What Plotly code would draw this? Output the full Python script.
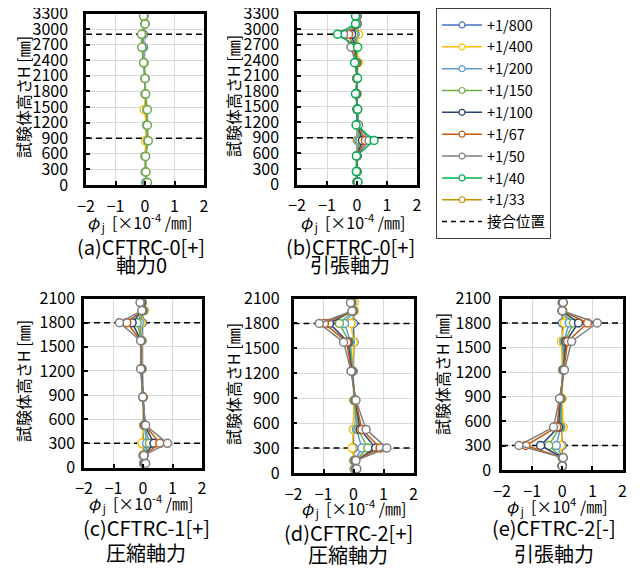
import plotly.graph_objects as go

# ---------------- data ----------------
series_names = ["+1/800", "+1/400", "+1/200", "+1/150", "+1/100", "+1/67", "+1/50", "+1/40", "+1/33"]
series_colors = ["#4472C4", "#FFC000", "#5B9BD5", "#70AD47", "#264478", "#C55A11", "#808080", "#00B050", "#BF9000"]

heights_top = [50, 250, 550, 850, 1150, 1450, 1750, 2050, 2350, 2650, 2900, 3100, 3250]
heights_bot = [50, 150, 300, 525, 875, 1225, 1575, 1800, 1950, 2050]

joint_top = [900, 2900]
joint_bot = [300, 1800]

# (a) CFTRC-0[+] 軸力0
phi_a = {
    "+1/800": [0.03, 0.01, 0.00, 0.05, 0.05, 0.04, 0.00, 0.00, -0.03, -0.05, -0.05, 0.00, -0.03],
    "+1/400": [0.05, 0.02, 0.01, 0.02, 0.06, -0.03, 0.01, 0.00, -0.03, -0.08, -0.08, 0.00, -0.04],
    "+1/200": [0.06, 0.02, 0.02, 0.09, 0.07, 0.06, 0.02, 0.00, -0.04, -0.09, -0.10, 0.00, -0.04],
    "+1/150": [0.08, 0.03, 0.02, 0.11, 0.08, 0.08, 0.02, 0.00, -0.05, -0.11, -0.12, 0.00, -0.05],
}
# (b) CFTRC-0[+] 引張軸力
phi_b = {
    "+1/800": [0.00, 0.00, 0.00, 0.01, 0.00, 0.00, 0.00, 0.00, 0.02, 0.00, 0.01, 0.00, 0.00],
    "+1/400": [0.00, 0.00, 0.00, 0.03, 0.00, 0.00, 0.00, 0.00, 0.05, 0.00, 0.05, 0.00, 0.00],
    "+1/200": [0.01, 0.00, 0.00, 0.06, 0.01, 0.00, -0.01, 0.00, 0.00, -0.03, -0.06, 0.00, 0.00],
    "+1/150": [0.01, 0.00, 0.00, 0.10, 0.01, 0.01, -0.01, 0.00, -0.01, -0.05, -0.10, 0.00, 0.00],
    "+1/100": [0.01, -0.01, 0.00, 0.18, 0.02, 0.01, -0.02, 0.00, -0.02, -0.08, -0.18, 0.00, 0.00],
    "+1/67": [0.02, -0.01, 0.00, 0.28, 0.03, 0.02, -0.03, 0.00, -0.03, -0.12, -0.28, 0.00, 0.00],
    "+1/50": [0.02, -0.02, 0.00, 0.40, 0.05, 0.02, -0.04, 0.00, -0.05, -0.20, -0.45, 0.00, 0.00],
    "+1/40": [0.03, -0.02, -0.02, 0.57, -0.03, 0.02, -0.05, 0.02, -0.08, 0.02, -0.65, -0.05, -0.05],
}
# (c) CFTRC-1[+] 圧縮軸力
phi_c = {
    "+1/800": [0.02, 0.00, 0.00, 0.02, 0.00, -0.03, -0.03, -0.02, 0.03, -0.02],
    "+1/400": [0.04, 0.01, -0.04, 0.03, 0.00, -0.04, -0.04, -0.06, 0.05, -0.03],
    "+1/200": [0.05, 0.02, 0.12, 0.05, 0.00, -0.05, -0.05, -0.12, 0.02, -0.04],
    "+1/150": [0.06, 0.02, 0.22, 0.05, 0.00, -0.06, -0.06, -0.20, 0.00, -0.05],
    "+1/100": [0.07, 0.03, 0.37, 0.06, 0.00, -0.06, -0.07, -0.37, -0.02, -0.06],
    "+1/67": [0.08, 0.03, 0.57, 0.07, 0.00, -0.07, -0.07, -0.55, -0.03, -0.08],
    "+1/50": [0.09, 0.03, 0.83, 0.09, -0.01, -0.08, -0.08, -0.80, -0.04, -0.10],
}
# (d) CFTRC-2[+] 圧縮軸力
phi_d = {
    "+1/800": [0.02, 0.01, 0.00, 0.00, 0.01, -0.01, 0.02, 0.00, 0.02, 0.02],
    "+1/400": [0.04, 0.02, -0.05, 0.00, 0.02, -0.03, 0.00, -0.08, 0.03, 0.03],
    "+1/200": [0.06, 0.04, 0.28, 0.10, 0.04, -0.04, -0.10, -0.30, 0.00, -0.05],
    "+1/150": [0.08, 0.05, 0.48, 0.15, 0.05, -0.05, -0.14, -0.47, -0.02, -0.07],
    "+1/100": [0.09, 0.06, 0.74, 0.22, 0.06, -0.06, -0.18, -0.80, -0.03, -0.08],
    "+1/67": [0.10, 0.07, 0.89, 0.28, 0.07, -0.07, -0.22, -0.97, -0.04, -0.09],
    "+1/50": [0.11, 0.08, 1.11, 0.42, 0.08, -0.08, -0.33, -1.14, -0.05, -0.10],
}
# (e) CFTRC-2[-] 引張軸力
phi_e = {
    "+1/800": [0.00, 0.00, 0.00, 0.00, -0.02, 0.01, 0.00, 0.00, 0.00, 0.00],
    "+1/400": [0.00, 0.00, -0.05, 0.03, 0.00, 0.02, -0.03, 0.07, 0.02, 0.01],
    "+1/200": [0.00, 0.01, -0.20, -0.05, -0.04, 0.03, 0.05, 0.23, 0.00, 0.01],
    "+1/150": [0.00, 0.02, -0.45, -0.08, -0.05, 0.04, 0.08, 0.37, 0.00, 0.02],
    "+1/100": [0.00, 0.02, -0.72, -0.12, -0.07, 0.05, 0.12, 0.54, 0.00, 0.02],
    "+1/67": [0.00, 0.03, -1.21, -0.18, -0.08, 0.06, 0.18, 0.84, 0.00, 0.03],
    "+1/50": [0.00, 0.03, -1.44, -0.29, -0.09, 0.07, 0.31, 1.16, 0.00, 0.03],
}

x_range = [-2, 2]
x_ticks = [-2, -1, 0, 1, 2]
y_range_top = [0, 3300]
y_range_bot = [0, 2100]
y_dtick = 300

captions = ["(a)CFTRC-0[+]", "(b)CFTRC-0[+]", "(c)CFTRC-1[+]", "(d)CFTRC-2[+]", "(e)CFTRC-2[-]"]
subcaptions = ["軸力0", "引張軸力", "圧縮軸力", "圧縮軸力", "引張軸力"]
y_title = "試験体高さH [㎜]"
x_titles = [
    "<i>φ</i><sub> j</sub>  [×10<sup>-4</sup> /㎜]",
    "<i>φ</i><sub> j</sub>  [×10<sup>-4</sup> /㎜]",
    "<i>φ</i><sub> j</sub>  [×10<sup>-4</sup> /㎜]",
    "<i>φ</i><sub> j</sub>  [×10<sup>-4</sup> /㎜]",
    "<i>φ</i><sub> j</sub>  [×10<sup>4</sup> /㎜]",
]
joint_label = "接合位置"

# ---------------- layout geometry (page pixels) ----------------
OFF = 8                      # default body margin of the html page
W, H = 640 - OFF, 568 - OFF
FONT = "Noto Sans CJK JP"
panels = [
    dict(x0=86, x1=204, yt=13.5, yb=185, data=phi_a, h=heights_top, j=joint_top, yr=y_range_top, so=12,
         ytx=23, yty=97, xtx=139, xty=222, cx=141, cy=246, sy=265),
    dict(x0=297, x1=417, yt=13.5, yb=184.5, data=phi_b, h=heights_top, j=joint_top, yr=y_range_top, so=12,
         ytx=233, yty=96, xtx=352, xty=222, cx=350, cy=246, sy=265),
    dict(x0=84, x1=202, yt=298.5, yb=467.5, data=phi_c, h=heights_bot, j=joint_bot, yr=y_range_bot, so=3,
         ytx=23, yty=381, xtx=140, xty=503, cx=146, cy=527, sy=552),
    dict(x0=293.5, x1=413.5, yt=298.5, yb=473, data=phi_d, h=heights_bot, j=joint_bot, yr=y_range_bot, so=8,
         ytx=233, yty=384, xtx=353, xty=508, cx=348, cy=532, sy=554),
    dict(x0=502, x1=622.5, yt=298.5, yb=470, data=phi_e, h=heights_bot, j=joint_bot, yr=y_range_bot, so=5,
         ytx=442, yty=374, xtx=557, xty=506, cx=554, cy=527, sy=553),
]

def px(x):
    return (x - OFF) / W

def py(y):
    return 1 - (y - OFF) / H

fig = go.Figure()
layout = dict(
    width=W, height=H, autosize=False,
    margin=dict(l=0, r=0, t=0, b=0, pad=0, autoexpand=False),
    paper_bgcolor="white", plot_bgcolor="white",
    font=dict(family=FONT, size=15, color="#000000"),
    showlegend=True,
    legend=dict(
        x=px(436), y=1.0, xanchor="left", yanchor="top",
        bordercolor="#404040", borderwidth=1, bgcolor="white",
        font=dict(family=FONT, size=14.5, color="#000000"),
        tracegroupgap=0, itemwidth=40,
    ),
)
annotations = []

for i, p in enumerate(panels):
    k = "" if i == 0 else str(i + 1)
    xa, ya = "x" + k, "y" + k
    layout["xaxis" + k] = dict(
        domain=[px(p["x0"]), px(p["x1"])], anchor=ya, range=x_range, automargin=False,
        tickvals=x_ticks, showgrid=True, gridcolor="#D9D9D9", gridwidth=1,
        zeroline=False, showline=True, linecolor="#000000", linewidth=2.5, mirror=True,
        ticks="inside", ticklen=4, tickwidth=1.5, tickcolor="#000000",
        ticklabelstandoff=5, ticklabeloverflow="allow", tickfont=dict(family=FONT, size=16),
    )
    layout["yaxis" + k] = dict(
        domain=[py(p["yb"]), py(p["yt"])], anchor=xa, range=p["yr"], dtick=y_dtick, tick0=0,
        automargin=False,
        showgrid=True, gridcolor="#D9D9D9", gridwidth=1,
        zeroline=False, showline=True, linecolor="#000000", linewidth=2.5, mirror=True,
        ticks="inside", ticklen=4, tickwidth=1.5, tickcolor="#000000",
        ticklabelstandoff=p["so"], ticklabeloverflow="allow", tickfont=dict(family=FONT, size=16),
    )
    for jv in p["j"]:
        fig.add_trace(go.Scatter(
            x=x_range, y=[jv, jv], mode="lines", xaxis=xa, yaxis=ya,
            line=dict(color="#000000", width=1.5, dash="6px,4px"),
            showlegend=False, hoverinfo="skip", cliponaxis=False,
        ))
    for name, vals in p["data"].items():
        c = series_colors[series_names.index(name)]
        fig.add_trace(go.Scatter(
            x=vals, y=p["h"], mode="lines+markers", xaxis=xa, yaxis=ya,
            name=name, line=dict(color=c, width=1.5),
            marker=dict(symbol="circle", size=8, color="white", line=dict(color=c, width=1.5)),
            showlegend=False,
        ))
    annotations.append(dict(x=px(p["ytx"]), y=py(p["yty"]), xref="paper", yref="paper",
                            text=y_title, textangle=-90, showarrow=False,
                            font=dict(family=FONT, size=16), xanchor="center", yanchor="middle"))
    annotations.append(dict(x=px(p["xtx"]), y=py(p["xty"]), xref="paper", yref="paper",
                            text=x_titles[i], showarrow=False,
                            font=dict(family=FONT, size=16), xanchor="center", yanchor="middle"))
    annotations.append(dict(x=px(p["cx"]), y=py(p["cy"]), xref="paper", yref="paper",
                            text=captions[i], showarrow=False,
                            font=dict(family=FONT, size=20), xanchor="center", yanchor="middle"))
    annotations.append(dict(x=px(p["cx"]), y=py(p["sy"]), xref="paper", yref="paper",
                            text=subcaptions[i], showarrow=False,
                            font=dict(family=FONT, size=20), xanchor="center", yanchor="middle"))

for name, c in zip(series_names, series_colors):
    fig.add_trace(go.Scatter(
        x=[None], y=[None], mode="lines+markers", name=name, xaxis="x2", yaxis="y2",
        line=dict(color=c, width=1.5),
        marker=dict(symbol="circle", size=6, color="white", line=dict(color=c, width=1.2)),
        showlegend=True,
    ))
fig.add_trace(go.Scatter(
    x=[None], y=[None], mode="lines", name=joint_label, xaxis="x2", yaxis="y2",
    line=dict(color="#000000", width=1.5, dash="5px,4px"), showlegend=True,
))

layout["annotations"] = annotations
fig.update_layout(**layout)
fig.write_html("out.html")
